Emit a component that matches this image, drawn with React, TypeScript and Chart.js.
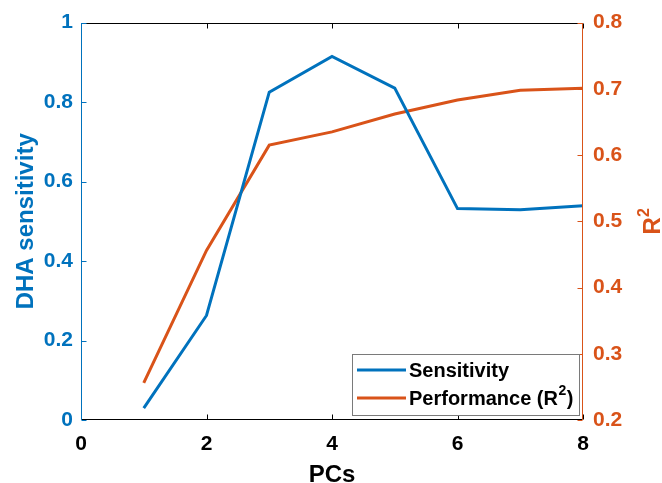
import React, { useEffect, useRef } from "react";
import { Chart, registerables } from "chart.js";

Chart.register(...registerables);

const pcs = [1, 2, 3, 4, 5, 6, 7, 8];
const sensitivity = [0.03, 0.263, 0.825, 0.915, 0.835, 0.532, 0.529, 0.539];
const performance = [0.256, 0.456, 0.615, 0.635, 0.662, 0.683, 0.698, 0.701];
const xTicks = [0, 2, 4, 6, 8];
const leftTicks = [0, 0.2, 0.4, 0.6, 0.8, 1];
const rightTicks = [0.2, 0.3, 0.4, 0.5, 0.6, 0.7, 0.8];

const BLUE = "#0072BD";
const ORANGE = "#D95319";
const FONT = "'Liberation Sans', Arial, sans-serif";

const decorPlugin = {
  id: "matlabDecor",
  afterDraw(chart: any) {
    const ctx = chart.ctx as CanvasRenderingContext2D;
    const a = chart.chartArea;
    const xs = chart.scales.x;
    const yl = chart.scales.y;
    const yr = chart.scales.y1;
    const L = Math.round(a.left) + 0.5;
    const R = Math.round(a.right) - 0.5;
    const T = Math.round(a.top) + 0.5;
    const B = Math.round(a.bottom) - 0.5;
    const tl = 5;
    ctx.save();
    ctx.lineWidth = 1;
    // top & bottom axes (black)
    ctx.strokeStyle = "#000";
    ctx.beginPath();
    ctx.moveTo(L, T); ctx.lineTo(R, T);
    ctx.moveTo(L, B); ctx.lineTo(R, B);
    xTicks.forEach((v) => {
      const px = Math.round(xs.getPixelForValue(v)) + 0.5;
      ctx.moveTo(px, B); ctx.lineTo(px, B - tl);
      ctx.moveTo(px, T); ctx.lineTo(px, T + tl);
    });
    ctx.stroke();
    // left axis (blue)
    ctx.strokeStyle = BLUE;
    ctx.beginPath();
    ctx.moveTo(L, T - 0.5); ctx.lineTo(L, B + 0.5);
    leftTicks.forEach((v) => {
      const py = Math.round(yl.getPixelForValue(v)) + 0.5;
      ctx.moveTo(L, py); ctx.lineTo(L + tl, py);
    });
    ctx.stroke();
    // right axis (orange)
    ctx.strokeStyle = ORANGE;
    ctx.beginPath();
    ctx.moveTo(R, T - 0.5); ctx.lineTo(R, B + 0.5);
    rightTicks.forEach((v) => {
      const py = Math.round(yr.getPixelForValue(v)) + 0.5;
      ctx.moveTo(R, py); ctx.lineTo(R - tl, py);
    });
    ctx.stroke();

    // axis titles
    const midY = (a.top + a.bottom) / 2;
    ctx.font = `bold 24px ${FONT}`;
    ctx.fillStyle = "#000";
    ctx.textAlign = "center";
    ctx.textBaseline = "alphabetic";
    ctx.fillText("PCs", (a.left + a.right) / 2, 482);

    ctx.save();
    ctx.translate(33, midY);
    ctx.rotate(-Math.PI / 2);
    ctx.fillStyle = BLUE;
    ctx.fillText("DHA sensitivity", 0, 0);
    ctx.restore();

    ctx.save();
    ctx.translate(660, midY);
    ctx.rotate(-Math.PI / 2);
    ctx.fillStyle = ORANGE;
    ctx.font = `bold 24px ${FONT}`;
    const rw = ctx.measureText("R").width;
    ctx.font = `bold 16px ${FONT}`;
    const sw = ctx.measureText("2").width;
    const total = rw + sw;
    ctx.textAlign = "left";
    ctx.font = `bold 24px ${FONT}`;
    ctx.fillText("R", -total / 2, 0);
    ctx.font = `bold 16px ${FONT}`;
    ctx.fillText("2", -total / 2 + rw, -11);
    ctx.restore();

    // legend
    const lx0 = 352.5, ly0 = 354.5, lx1 = 579.5, ly1 = 415.5;
    ctx.fillStyle = "#fff";
    ctx.fillRect(lx0, ly0, lx1 - lx0, ly1 - ly0);
    ctx.strokeStyle = "#7a7a7a";
    ctx.lineWidth = 1;
    ctx.strokeRect(lx0, ly0, lx1 - lx0, ly1 - ly0);
    const rows = [
      { color: BLUE, y: 370 },
      { color: ORANGE, y: 398 },
    ];
    rows.forEach((r) => {
      ctx.strokeStyle = r.color;
      ctx.lineWidth = 3;
      ctx.beginPath();
      ctx.moveTo(357, r.y);
      ctx.lineTo(406, r.y);
      ctx.stroke();
    });
    ctx.fillStyle = "#000";
    ctx.textAlign = "left";
    ctx.textBaseline = "middle";
    ctx.font = `bold 20px ${FONT}`;
    ctx.fillText("Sensitivity", 409, 371);
    const p1 = "Performance (R";
    ctx.fillText(p1, 409, 399);
    let x = 409 + ctx.measureText(p1).width;
    ctx.font = `bold 14px ${FONT}`;
    ctx.fillText("2", x + 0.5, 391);
    x += ctx.measureText("2").width + 1;
    ctx.font = `bold 20px ${FONT}`;
    ctx.fillText(")", x, 399);
    ctx.restore();
  },
};

export default function App() {
  const ref = useRef<HTMLCanvasElement | null>(null);
  useEffect(() => {
    if (!ref.current) return;
    const chart = new Chart(ref.current, {
      type: "line",
      data: {
        datasets: [
          {
            label: "Sensitivity",
            data: pcs.map((p, i) => ({ x: p, y: sensitivity[i] })),
            borderColor: BLUE,
            backgroundColor: BLUE,
            borderWidth: 3,
            pointRadius: 0,
            tension: 0,
            yAxisID: "y",
          },
          {
            label: "Performance (R²)",
            data: pcs.map((p, i) => ({ x: p, y: performance[i] })),
            borderColor: ORANGE,
            backgroundColor: ORANGE,
            borderWidth: 3,
            pointRadius: 0,
            tension: 0,
            yAxisID: "y1",
          },
        ],
      },
      options: {
        animation: false,
        responsive: true,
        maintainAspectRatio: false,
        layout: { padding: { top: 21, left: 0, right: 0, bottom: 0 } },
        plugins: { legend: { display: false }, tooltip: { enabled: false } },
        scales: {
          x: {
            type: "linear",
            min: 0,
            max: 8,
            afterBuildTicks: (s: any) => {
              s.ticks = xTicks.map((v) => ({ value: v }));
            },
            afterFit: (s: any) => {
              s.height = 63;
            },
            grid: { display: false, drawTicks: false },
            border: { display: false },
            ticks: {
              color: "#000",
              font: { family: FONT, size: 21, weight: "bold" },
              padding: 12,
              maxRotation: 0,
              autoSkip: false,
              callback: (v: any) => String(v),
            },
          },
          y: {
            type: "linear",
            position: "left",
            min: 0,
            max: 1,
            afterBuildTicks: (s: any) => {
              s.ticks = leftTicks.map((v) => ({ value: v }));
            },
            afterFit: (s: any) => {
              s.width = 81;
            },
            grid: { display: false, drawTicks: false },
            border: { display: false },
            ticks: {
              color: BLUE,
              font: { family: FONT, size: 21, weight: "bold" },
              padding: 8,
              autoSkip: false,
              callback: (v: any) => String(Math.round(Number(v) * 10) / 10),
            },
          },
          y1: {
            type: "linear",
            position: "right",
            min: 0.2,
            max: 0.8,
            afterBuildTicks: (s: any) => {
              s.ticks = rightTicks.map((v) => ({ value: v }));
            },
            afterFit: (s: any) => {
              s.width = 79;
            },
            grid: { display: false, drawTicks: false },
            border: { display: false },
            ticks: {
              color: ORANGE,
              font: { family: FONT, size: 21, weight: "bold" },
              padding: 10,
              autoSkip: false,
              callback: (v: any) => Number(v).toFixed(1),
            },
          },
        },
      },
      plugins: [decorPlugin],
    });
    return () => chart.destroy();
  }, []);
  return (
    <div style={{ position: "fixed", left: 0, top: 0, width: 662, height: 483, background: "#fff" }}>
      <canvas ref={ref} />
    </div>
  );
}
